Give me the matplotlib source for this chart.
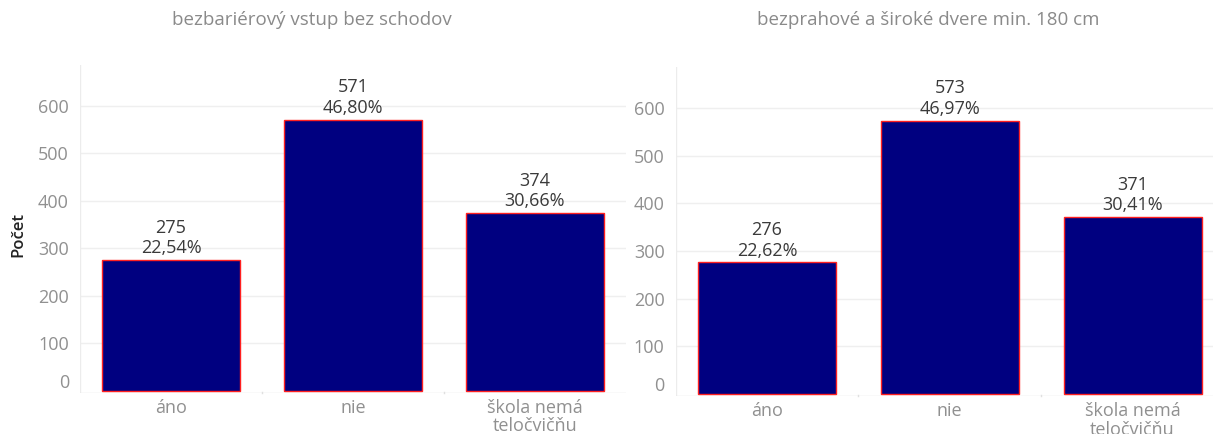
import matplotlib
matplotlib.use("Agg")
import matplotlib.pyplot as plt
import matplotlib.transforms as mtransforms

plt.rcParams['font.family'] = ['Open Sans', 'DejaVu Sans']

categories = ["áno", "nie", "škola nemá\nteločvičňu"]
titles = ["bezbariérový vstup bez schodov", "bezprahové a široké dvere min. 180 cm"]
counts_left = [275, 571, 374]
pct_left = ["22,54%", "46,80%", "30,66%"]
counts_right = [276, 573, 371]
pct_right = ["22,62%", "46,97%", "30,41%"]
yticks = [0, 100, 200, 300, 400, 500, 600]

BAR = "#000080"
EDGE = "#ff2020"
GRID = "#efefef"
TICK = "#909090"
LABEL = "#3a3a3a"

fig = plt.figure(figsize=(12.13, 4.34), dpi=100)

panels = [
    ([0.066, 0.0945, 0.450, 0.7555], counts_left, pct_left, titles[0], 0.257),
    ([0.557, 0.0866, 0.452, 0.7590], counts_right, pct_right, titles[1], 0.765),
]

for rect, counts, pcts, title, tx in panels:
    ax = fig.add_axes(rect)
    x = list(range(len(categories)))
    ax.bar(x, counts, width=0.755, color=BAR, edgecolor=EDGE, linewidth=1.0, zorder=3)
    ax.set_xlim(-0.5, 2.5)
    ax.set_ylim(-5, 686)
    ax.set_yticks(yticks)
    ax.set_yticklabels([str(v) for v in yticks])
    ax.set_xticks(x)
    ax.set_xticklabels(categories, linespacing=1.05)
    ax.tick_params(axis='y', length=0, pad=8, labelsize=13, labelcolor=TICK)
    ax.tick_params(axis='x', length=0, pad=4, labelsize=13, labelcolor=TICK)
    # the zero label sits a little above its gridline
    zl = ax.get_yticklabels()[0]
    zl.set_transform(zl.get_transform() + mtransforms.ScaledTranslation(0, 10 / 100, fig.dpi_scale_trans))
    for v in yticks[1:]:
        ax.axhline(v, color=GRID, linewidth=1.0, zorder=0)
    ax.axhline(-5, color="#e4e4e4", linewidth=1.0, zorder=1)
    for s in ax.spines.values():
        s.set_visible(False)
    ax.axvline(-0.5, color="#ececec", linewidth=1.0, zorder=0)
    for b in [0.5, 1.5]:
        ax.plot([b, b], [-5, -2], color="#e0e0e0", linewidth=1.0, clip_on=False)
    for xi, c, p in zip(x, counts, pcts):
        ax.annotate(f"{c}\n{p}", (xi, c), xytext=(0, 2), textcoords="offset points",
                    ha="center", va="bottom", fontsize=13, color=LABEL, linespacing=1.2)
    fig.text(tx, 0.955, title, ha="center", va="center", fontsize=13.5, color="#8a8a8a")

fig.text(0.015, 0.459, "Počet", rotation=90, ha="center", va="center",
         fontsize=12, color="#222222", fontweight="semibold")

fig.savefig("out.png", dpi=100)
